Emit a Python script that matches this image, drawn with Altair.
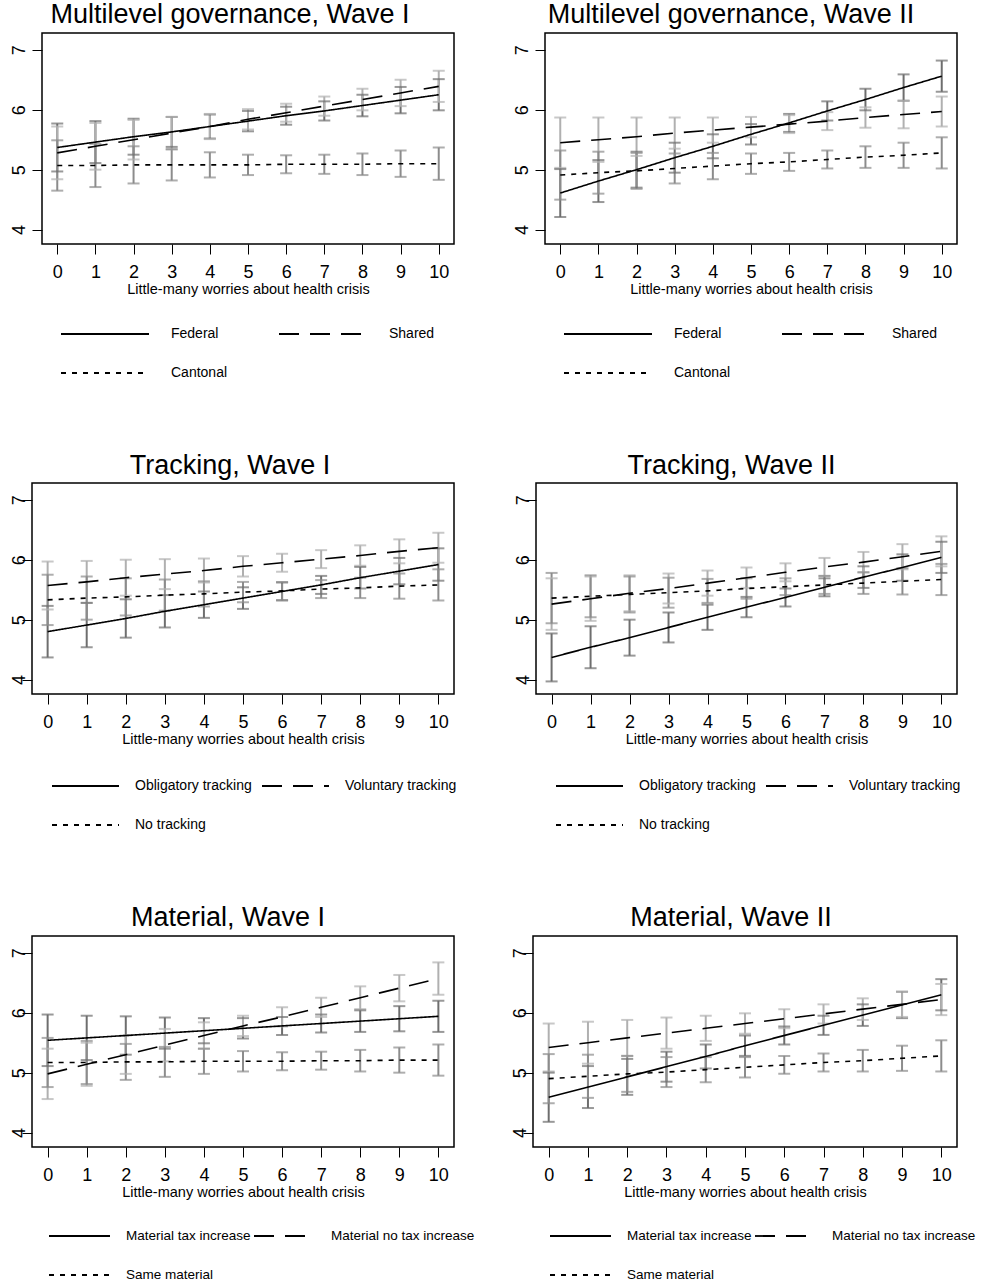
import altair as alt
import pandas as pd

FONT = "Liberation Sans"
X_VALUES = list(range(11))
Y_TICKS = [4, 5, 6, 7]
X_TITLE = "Little-many worries about health crisis"

# ---------------- Multilevel governance ----------------
mg_names = ["Federal", "Shared", "Cantonal"]
mg1_federal = [5.37, 5.46, 5.55, 5.63, 5.72, 5.81, 5.90, 5.98, 6.07, 6.16, 6.25]
mg1_federal_hw = [0.40, 0.35, 0.30, 0.25, 0.20, 0.17, 0.15, 0.16, 0.18, 0.22, 0.26]
mg1_shared = [5.28, 5.39, 5.50, 5.61, 5.72, 5.84, 5.95, 6.06, 6.17, 6.28, 6.39]
mg1_shared_hw = [0.44, 0.39, 0.33, 0.27, 0.21, 0.17, 0.15, 0.16, 0.18, 0.22, 0.26]
mg1_cantonal = [5.07, 5.07, 5.08, 5.08, 5.08, 5.08, 5.09, 5.09, 5.09, 5.10, 5.10]
mg1_cantonal_hw = [0.42, 0.36, 0.31, 0.26, 0.21, 0.17, 0.15, 0.16, 0.18, 0.22, 0.27]

mg2_federal = [4.61, 4.81, 5.00, 5.20, 5.39, 5.59, 5.78, 5.98, 6.17, 6.37, 6.56]
mg2_federal_hw = [0.40, 0.35, 0.30, 0.25, 0.20, 0.17, 0.15, 0.16, 0.18, 0.22, 0.26]
mg2_shared = [5.45, 5.50, 5.55, 5.61, 5.66, 5.71, 5.76, 5.81, 5.87, 5.92, 5.97]
mg2_shared_hw = [0.42, 0.37, 0.32, 0.26, 0.21, 0.17, 0.15, 0.15, 0.17, 0.23, 0.25]
mg2_cantonal = [4.91, 4.95, 4.98, 5.02, 5.06, 5.10, 5.13, 5.17, 5.21, 5.24, 5.28]
mg2_cantonal_hw = [0.41, 0.35, 0.30, 0.25, 0.22, 0.17, 0.15, 0.15, 0.18, 0.21, 0.26]

# ---------------- Tracking ----------------
tr_names = ["Obligatory tracking", "Voluntary tracking", "No tracking"]
tr1_obl = [4.80, 4.91, 5.02, 5.14, 5.25, 5.36, 5.47, 5.58, 5.70, 5.81, 5.92]
tr1_obl_hw = [0.43, 0.37, 0.32, 0.27, 0.22, 0.18, 0.15, 0.15, 0.18, 0.22, 0.27]
tr1_vol = [5.57, 5.63, 5.70, 5.76, 5.82, 5.89, 5.95, 6.01, 6.07, 6.14, 6.20]
tr1_vol_hw = [0.40, 0.35, 0.30, 0.25, 0.20, 0.17, 0.15, 0.15, 0.17, 0.20, 0.25]
tr1_no = [5.33, 5.36, 5.38, 5.41, 5.43, 5.46, 5.48, 5.51, 5.53, 5.56, 5.58]
tr1_no_hw = [0.42, 0.36, 0.31, 0.26, 0.21, 0.17, 0.15, 0.15, 0.17, 0.21, 0.26]

tr2_obl = [4.37, 4.54, 4.70, 4.87, 5.04, 5.21, 5.37, 5.54, 5.71, 5.87, 6.04]
tr2_obl_hw = [0.40, 0.35, 0.30, 0.25, 0.21, 0.17, 0.15, 0.15, 0.18, 0.22, 0.26]
tr2_vol = [5.26, 5.35, 5.44, 5.52, 5.61, 5.70, 5.79, 5.88, 5.96, 6.05, 6.14]
tr2_vol_hw = [0.43, 0.37, 0.30, 0.25, 0.21, 0.17, 0.15, 0.15, 0.17, 0.21, 0.25]
tr2_no = [5.36, 5.39, 5.42, 5.45, 5.48, 5.52, 5.55, 5.58, 5.61, 5.64, 5.67]
tr2_no_hw = [0.42, 0.35, 0.30, 0.25, 0.20, 0.17, 0.14, 0.15, 0.18, 0.22, 0.26]

# ---------------- Material ----------------
ma_names = ["Material tax increase", "Material no tax increase", "Same material"]
ma1_tax = [5.54, 5.58, 5.62, 5.66, 5.70, 5.74, 5.78, 5.82, 5.86, 5.90, 5.94]
ma1_tax_hw = [0.43, 0.37, 0.32, 0.26, 0.21, 0.17, 0.15, 0.15, 0.18, 0.21, 0.26]
ma1_notax = [4.98, 5.14, 5.30, 5.46, 5.62, 5.78, 5.93, 6.09, 6.25, 6.41, 6.57]
ma1_notax_hw = [0.42, 0.36, 0.32, 0.27, 0.22, 0.17, 0.16, 0.16, 0.19, 0.22, 0.27]
ma1_same = [5.17, 5.17, 5.18, 5.18, 5.19, 5.19, 5.19, 5.20, 5.20, 5.21, 5.21]
ma1_same_hw = [0.41, 0.36, 0.30, 0.25, 0.21, 0.17, 0.15, 0.15, 0.18, 0.21, 0.26]

ma2_tax = [4.59, 4.76, 4.93, 5.10, 5.27, 5.45, 5.62, 5.79, 5.96, 6.13, 6.30]
ma2_tax_hw = [0.41, 0.35, 0.30, 0.25, 0.20, 0.17, 0.15, 0.16, 0.18, 0.22, 0.26]
ma2_notax = [5.42, 5.50, 5.58, 5.66, 5.74, 5.82, 5.90, 5.98, 6.06, 6.14, 6.22]
ma2_notax_hw = [0.40, 0.35, 0.30, 0.26, 0.21, 0.17, 0.16, 0.16, 0.18, 0.21, 0.26]
ma2_same = [4.90, 4.94, 4.98, 5.01, 5.05, 5.09, 5.13, 5.17, 5.20, 5.24, 5.28]
ma2_same_hw = [0.41, 0.36, 0.30, 0.25, 0.21, 0.17, 0.15, 0.15, 0.18, 0.21, 0.26]

GRAYS = ["#6e6e6e", "#b0b0b0", "#8c8c8c"]
DASHES = [[1, 0], [20, 11], [5, 6]]

ONE = pd.DataFrame({"k": [0]})


def legend_layers(names, lay, font_size):
    # lay: (line_x1, line_x2, text_x, col2_shift, row1_y, row2_y)
    x1, x2, tx, shift, r1, r2 = lay
    slots = [(0, r1), (shift, r1), (0, r2)]
    out = []
    for name, dash, (dx, ry) in zip(names, DASHES, slots):
        out.append(alt.Chart(ONE).mark_rule(color="black", strokeWidth=1.8, strokeDash=dash)
                   .encode(x=alt.value(x1 + dx), x2=alt.value(x2 + dx), y=alt.value(ry)))
        out.append(alt.Chart(ONE).mark_text(text=name, font=FONT, fontSize=font_size,
                                            color="black", align="left", baseline="middle")
                   .encode(x=alt.value(tx + dx), y=alt.value(ry)))
    return out


def panel(title, names, fits, hws, width, height, title_dx, title_offset,
          ylab_pad, lay, leg_font):
    rows = []
    for name, f, h in zip(names, fits, hws):
        for xi, fv, hv in zip(X_VALUES, f, h):
            rows.append({"x": xi, "series": name, "fit": fv,
                         "lo": round(fv - hv, 3), "hi": round(fv + hv, 3)})
    df = pd.DataFrame(rows)
    xs = alt.Scale(domain=[-0.4, 10.4], nice=False, zero=False)
    ys = alt.Scale(domain=[3.76, 7.28], nice=False, zero=False)
    xax = alt.Axis(values=X_VALUES, title=X_TITLE, titleFont=FONT, titleFontSize=14.5,
                   titleFontWeight="normal", titleColor="black", titleY=49,
                   titleBaseline="alphabetic", labelFont=FONT, labelFontSize=18,
                   labelColor="black", labelBaseline="alphabetic", labelPadding=23,
                   tickSize=10, tickColor="black", tickWidth=1, domain=False,
                   grid=False, labelFlush=False, labelOverlap=False)
    yax = alt.Axis(values=Y_TICKS, title=None, labelAngle=270, labelAlign="center",
                   labelBaseline="alphabetic", labelPadding=ylab_pad, labelFont=FONT,
                   labelFontSize=18, labelColor="black", tickSize=10,
                   tickColor="black", tickWidth=1, domain=False, grid=False,
                   labelFlush=False, labelOverlap=False)
    color = alt.Color("series:N", scale=alt.Scale(domain=names, range=GRAYS), legend=None)
    base = alt.Chart(df)
    bars = base.mark_rule(strokeWidth=2).encode(
        x=alt.X("x:Q", scale=xs, axis=xax),
        y=alt.Y("lo:Q", scale=ys, axis=yax), y2="hi:Q", color=color)
    cap_lo = base.mark_tick(orient="horizontal", size=12, thickness=2).encode(
        x=alt.X("x:Q", scale=xs, axis=xax), y=alt.Y("lo:Q", scale=ys, axis=yax), color=color)
    cap_hi = base.mark_tick(orient="horizontal", size=12, thickness=2).encode(
        x=alt.X("x:Q", scale=xs, axis=xax), y=alt.Y("hi:Q", scale=ys, axis=yax), color=color)
    lines = base.mark_line(color="black", strokeWidth=1.6).encode(
        x=alt.X("x:Q", scale=xs, axis=xax),
        y=alt.Y("fit:Q", scale=ys, axis=yax),
        strokeDash=alt.StrokeDash("series:N", scale=alt.Scale(domain=names, range=DASHES),
                                  legend=None))
    return alt.layer(bars, cap_lo, cap_hi, lines,
                     *legend_layers(names, lay, leg_font)).properties(
        width=width, height=height,
        title=alt.TitleParams(text=title, font=FONT, fontSize=27, fontWeight="normal",
                              color="black", anchor="middle", dx=title_dx, dy=26,
                              frame="group", offset=title_offset, baseline="alphabetic"))


def indep(c):
    return c.resolve_scale(color="independent", strokeDash="independent")


MG_LAY = (19, 107, 129, 218, 301, 340)
TR_LAY = (20, 87, 103, 210, 303, 342)
MA_LAY = (17, 78, 94, 205, 300, 339)

p11 = panel("Multilevel governance, Wave I", mg_names,
            [mg1_federal, mg1_shared, mg1_cantonal],
            [mg1_federal_hw, mg1_shared_hw, mg1_cantonal_hw],
            412, 211, -18, 9, 8, MG_LAY, 14)
p12 = panel("Multilevel governance, Wave II", mg_names,
            [mg2_federal, mg2_shared, mg2_cantonal],
            [mg2_federal_hw, mg2_shared_hw, mg2_cantonal_hw],
            412, 211, -20, 9, 8, MG_LAY, 14)
p21 = panel("Tracking, Wave I", tr_names, [tr1_obl, tr1_vol, tr1_no],
            [tr1_obl_hw, tr1_vol_hw, tr1_no_hw],
            422, 211, -13, 8, -2, TR_LAY, 14)
p22 = panel("Tracking, Wave II", tr_names, [tr2_obl, tr2_vol, tr2_no],
            [tr2_obl_hw, tr2_vol_hw, tr2_no_hw],
            421, 211, -15, 8, -2, TR_LAY, 14)
p31 = panel("Material, Wave I", ma_names, [ma1_tax, ma1_notax, ma1_same],
            [ma1_tax_hw, ma1_notax_hw, ma1_same_hw],
            422, 211, -15, 9, -2, MA_LAY, 13.5)
p32 = panel("Material, Wave II", ma_names, [ma2_tax, ma2_notax, ma2_same],
            [ma2_tax_hw, ma2_notax_hw, ma2_same_hw],
            424, 211, -14, 9, -2, MA_LAY, 13.5)

# invisible 1-px spacer: gives every row the same origin so that the left
# panels are placed by their own axis extent
spacer = alt.Chart(ONE).mark_rule(opacity=0, strokeWidth=0).encode(
    x=alt.value(0), y=alt.value(0), y2=alt.value(1)
).properties(width=1, height=1, view=alt.ViewBackground(stroke="transparent"))


def row(left, right, gap):
    return indep(alt.hconcat(indep(alt.hconcat(spacer, left, spacing=0)), right, spacing=gap))


row1 = row(p11, p12, 57)
row2 = row(p21, p22, 55)
row3 = row(p31, p32, 34)

chart = indep(alt.concat(row1, row2, row3, columns=1, align="none", spacing=70)).properties(
    padding={"left": 6, "top": 0, "right": 0, "bottom": 0},
    background="white"
).configure_view(stroke="black", strokeWidth=1.5)

chart.save("out.html", embed_options={"renderer": "svg", "actions": False})
